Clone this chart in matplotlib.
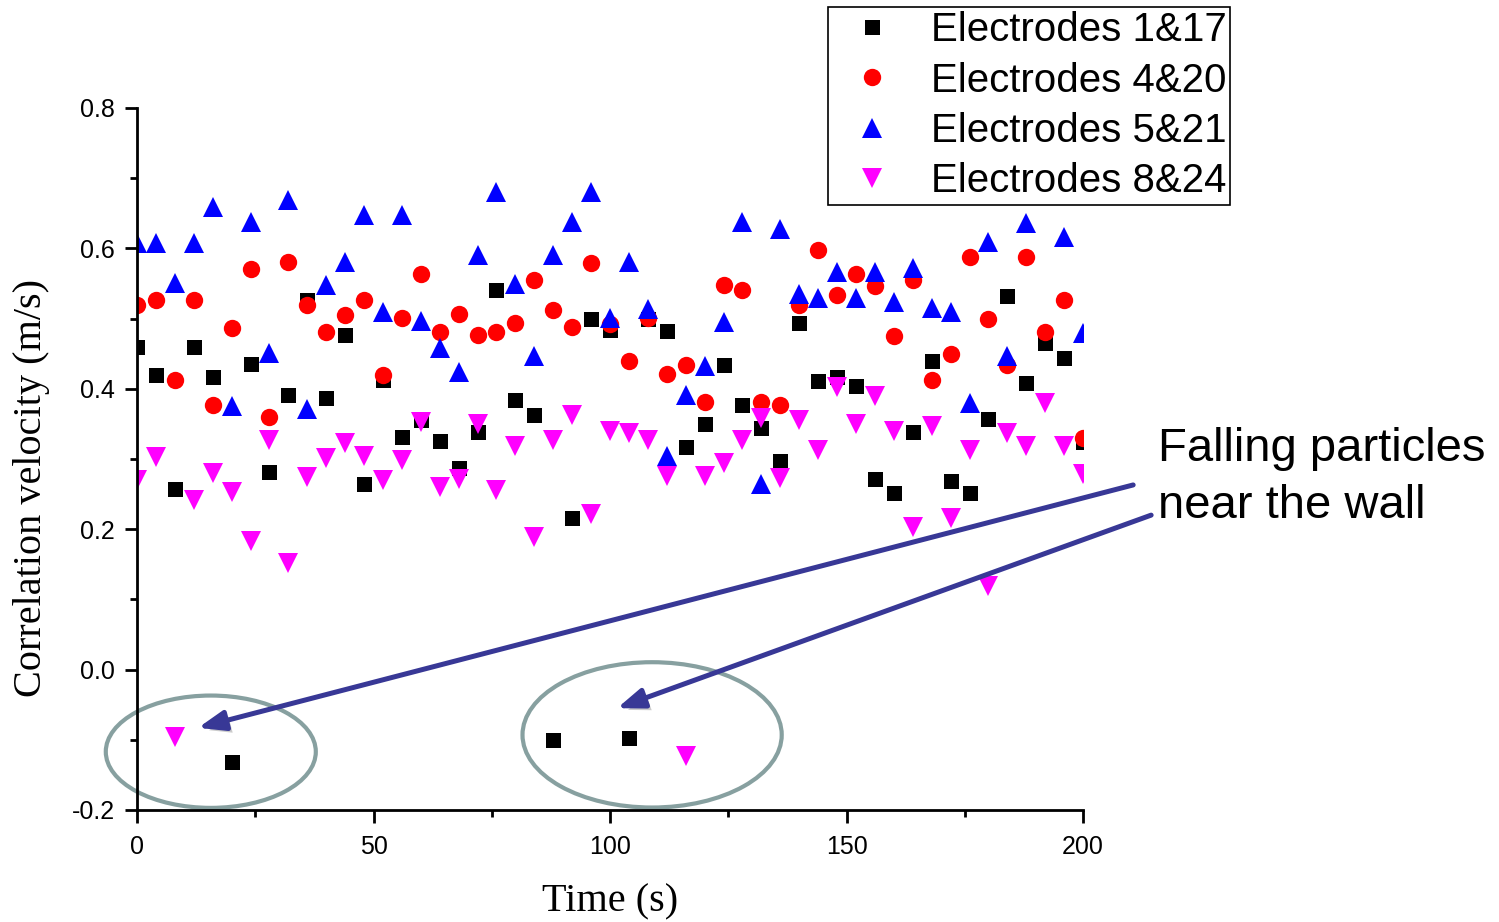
import numpy as np
import matplotlib
matplotlib.use("Agg")
import matplotlib.pyplot as plt
from matplotlib.patches import Ellipse
import matplotlib.patheffects as pe

plt.rcParams['font.family'] = ['Liberation Sans', 'DejaVu Sans']
plt.rcParams['axes.unicode_minus'] = False

# sampling times (s)
time = list(range(0, 201, 4))

v_1_17 = [0.460, 0.420, 0.257, 0.460, 0.417, -0.132, 0.435, 0.281, 0.391, 0.527,
          0.387, 0.477, 0.264, 0.413, 0.331, 0.356, 0.326, 0.287, 0.338, 0.541,
          0.384, 0.363, -0.100, 0.216, 0.499, 0.484, -0.097, 0.499, 0.482, 0.317,
          0.350, 0.434, 0.377, 0.344, 0.297, 0.494, 0.411, 0.417, 0.404, 0.272,
          0.252, 0.338, 0.440, 0.269, 0.252, 0.357, 0.532, 0.408, 0.465, 0.444, 0.324]
v_4_20 = [0.519, 0.527, 0.413, 0.527, 0.377, 0.487, 0.571, 0.360, 0.581, 0.519,
          0.481, 0.505, 0.527, 0.420, 0.501, 0.564, 0.481, 0.507, 0.477, 0.481,
          0.494, 0.555, 0.512, 0.488, 0.579, 0.492, 0.440, 0.501, 0.421, 0.434,
          0.381, 0.548, 0.541, 0.381, 0.377, 0.519, 0.598, 0.534, 0.564, 0.546,
          0.475, 0.555, 0.413, 0.450, 0.588, 0.499, 0.434, 0.588, 0.481, 0.527, 0.330]
v_5_21 = [0.608, 0.608, 0.551, 0.608, 0.659, 0.375, 0.638, 0.451, 0.669, 0.371,
          0.548, 0.581, 0.648, 0.509, 0.648, 0.497, 0.458, 0.424, 0.591, 0.680,
          0.549, 0.447, 0.591, 0.638, 0.680, 0.501, 0.581, 0.514, 0.304, 0.391,
          0.432, 0.495, 0.638, 0.264, 0.628, 0.535, 0.529, 0.566, 0.529, 0.566,
          0.524, 0.572, 0.515, 0.509, 0.380, 0.609, 0.447, 0.636, np.nan, 0.616, 0.479]
v_8_24 = [0.270, 0.303, -0.096, 0.242, 0.280, 0.253, 0.183, 0.327, 0.152, 0.274,
          0.301, 0.323, 0.304, 0.270, 0.299, 0.353, 0.260, 0.271, 0.350, 0.256,
          0.319, 0.189, 0.327, 0.363, 0.222, 0.340, 0.337, 0.327, 0.276, -0.123,
          0.276, 0.294, 0.327, 0.358, 0.273, 0.356, 0.313, 0.403, 0.350, 0.390,
          0.340, 0.203, 0.347, 0.216, 0.313, 0.119, 0.337, 0.319, 0.380, 0.319, 0.279]

labels = ['Electrodes 1&17', 'Electrodes 4&20', 'Electrodes 5&21', 'Electrodes 8&24']

fig = plt.figure(figsize=(14.99, 9.22), dpi=100)
ax = fig.add_axes([0.0914, 0.1215, 0.6311, 0.7614])

ax.plot(time, v_1_17, 's', color='black', ms=10.8, mew=0, label=labels[0])
ax.plot(time, v_4_20, 'o', color='#ff0000', ms=12.5, mew=0, label=labels[1])
ax.plot(time, v_5_21, '^', color='#0000ff', ms=14, mew=0, label=labels[2])
ax.plot(time, v_8_24, 'v', color='#ff00ff', ms=14, mew=0, label=labels[3])

ax.set_xlim(0, 200)
ax.set_ylim(-0.2, 0.8)
ax.set_xticks([0, 50, 100, 150, 200])
ax.set_xticks([25, 75, 125, 175], minor=True)
ax.set_yticks([-0.2, 0.0, 0.2, 0.4, 0.6, 0.8])
ax.set_yticks([-0.1, 0.1, 0.3, 0.5, 0.7], minor=True)
ax.set_yticklabels(['-0.2', '0.0', '0.2', '0.4', '0.6', '0.8'])

for side in ['top', 'right']:
    ax.spines[side].set_visible(False)
for side in ['left', 'bottom']:
    ax.spines[side].set_linewidth(2.0)
ax.tick_params(which='major', direction='out', length=9, width=2.0, labelsize=18)
ax.tick_params(which='minor', direction='out', length=5, width=2.0)
ax.tick_params(axis='x', which='major', pad=9)
ax.tick_params(axis='y', which='major', pad=7)

ax.set_xlabel('Time (s)', family='Liberation Serif', fontsize=29)
ax.set_ylabel('Correlation velocity (m/s)', family='Liberation Serif', fontsize=29)
ax.xaxis.set_label_coords(0.5, -0.131)
ax.yaxis.set_label_coords(-0.112, 0.459)
ax.xaxis.label.set_va('center')
ax.yaxis.label.set_va('center')

# circles around the negative readings
ell_color = '#87a0a0'
ax.add_patch(Ellipse((15.6, -0.117), 44.4, 0.16, fill=False, ec=ell_color,
                     lw=3.0, clip_on=False, zorder=1))
ax.add_patch(Ellipse((108.9, -0.093), 54.8, 0.207, fill=False, ec=ell_color,
                     lw=3.0, clip_on=False, zorder=1))

# arrows from the note down to the circled points
arrow_color = '#383896'
shadow = [pe.SimplePatchShadow(offset=(3, -3), shadow_rgbFace='#555555', alpha=0.3), pe.Normal()]
arrowprops = dict(arrowstyle='-|>,head_length=0.8,head_width=0.3', color=arrow_color,
                  lw=3.6, mutation_scale=20, shrinkA=0, shrinkB=0,
                  path_effects=shadow)
ax.annotate('', xy=(12.9, -0.083), xytext=(210.6, 0.263), arrowprops=arrowprops,
            annotation_clip=False)
ax.annotate('', xy=(101.5, -0.055), xytext=(214.4, 0.220), arrowprops=arrowprops,
            annotation_clip=False)

fig.text(0.7725, 1 - 427 / 922, 'Falling particles\nnear the wall', fontsize=34,
         va='top', ha='left', linespacing=1.38)

leg = fig.legend(loc='upper left', bbox_to_anchor=(828 / 1499, 1 - 7 / 922),
                 bbox_transform=fig.transFigure, fontsize=29, frameon=True,
                 fancybox=False, framealpha=1, edgecolor='black', borderpad=0.1,
                 handlelength=2.0, handletextpad=0.45, labelspacing=0.31,
                 borderaxespad=0, numpoints=1)
leg.get_frame().set_linewidth(1.2)

fig.savefig('out.png', dpi=100, facecolor='white')
